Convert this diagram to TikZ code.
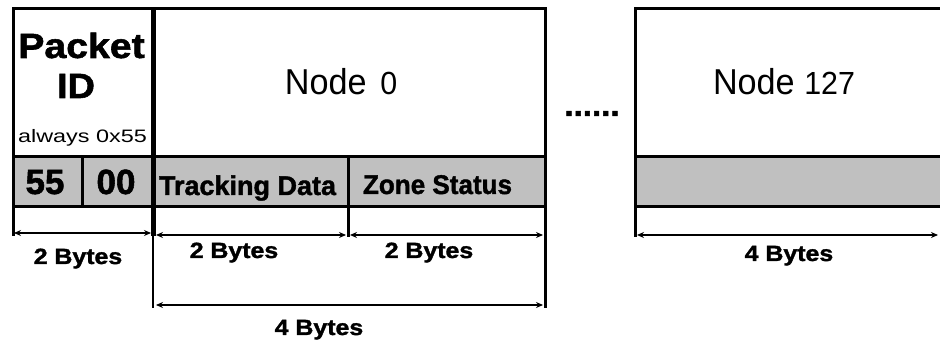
\documentclass[tikz,border=0pt]{standalone}
\usepackage{fontspec}
\setmainfont{Liberation Sans}[BoldFeatures={FakeBold=1.5}]
\usetikzlibrary{arrows.meta}
\definecolor{cellgrey}{HTML}{C0C0C0}
% text at a given size, stretched horizontally by a factor
\newcommand\sizedtext[3]{\scalebox{#2}[1]{\fontsize{#1}{#1}\selectfont #3}}

\begin{document}
\begin{tikzpicture}[x=1pt,y=-1pt,
  cell/.style={draw=black, line width=3pt, anchor=north west, outer sep=0pt, inner sep=0pt},
  greycell/.style={cell, fill=cellgrey},
  lbl/.style={anchor=base, inner sep=0pt, outer sep=0pt},
  extline/.style={line width=3pt},
  divline/.style={line width=5pt},
  dimline/.style={line width=1.5pt, {Stealth[length=7pt,width=6pt]}-{Stealth[length=7pt,width=6pt]}}]
\useasboundingbox (0,0) rectangle (940,344);
\clip (0,0) rectangle (940,344);

% upper row
\node[cell, minimum width=140pt, minimum height=148pt] (pid) at (13,9) {};
\node[cell, minimum width=392pt, minimum height=148pt] (n0) at (153,9) {};
\node[cell, minimum width=330pt, minimum height=148pt] (n127) at (635,9) {};

% grey field row
\node[greycell, minimum width=69pt, minimum height=50pt] (c55) at (13,157) {};
\node[greycell, minimum width=71pt, minimum height=50pt] (c00) at (82,157) {};
\node[greycell, minimum width=195pt, minimum height=50pt] (track) at (153,157) {};
\node[greycell, minimum width=197pt, minimum height=50pt] (zone) at (348,157) {};
\node[greycell, minimum width=330pt, minimum height=50pt] (g127) at (635,157) {};

% extension lines
\coordinate (xL) at (13,236);
\coordinate (xA) at (153,236);
\coordinate (xAlong) at (153,308);
\coordinate (xB) at (348,237);
\coordinate (xC) at (545,308);
\coordinate (xD) at (635,237);
\draw[extline] (c55.south west) -- (xL);
\draw[extline] (track.south east) -- (xB);
\draw[extline] (zone.south east) -- (xC);
\draw[extline] (g127.south west) -- (xD);
\draw[line width=2.5pt] (xA) -- (xAlong);
\draw[divline] (pid.north east) -- (xA);

% dimension arrows
\coordinate (aL1) at (14,233);
\coordinate (aL2) at (151,233);
\coordinate (aM1) at (156,235);
\coordinate (aM2) at (346,235);
\coordinate (aN1) at (350,235);
\coordinate (aN2) at (543,235);
\coordinate (aT1) at (156,305);
\coordinate (aT2) at (543,305);
\coordinate (aR1) at (637,235);
\coordinate (aR2) at (938,235);
\draw[dimline] (aL1) -- (aL2);
\draw[dimline] (aM1) -- (aM2);
\draw[dimline] (aN1) -- (aN2);
\draw[dimline] (aT1) -- (aT2);
\draw[dimline] (aR1) -- (aR2);

% labels
\node[lbl] (tpacket) at (81.5,58) {\sizedtext{35}{1.12}{\bfseries Packet}};
\node[lbl] (tid) at (76,98) {\sizedtext{35}{1.08}{\bfseries ID}};
\node[lbl] (talways) at (82.5,143) {\sizedtext{18}{1.3}{always 0x55}};
\node[lbl] (tnode0) at (341,95) {\sizedtext{36}{0.95}{Node\hspace{0.4em}\fontsize{32}{32}\selectfont 0}};
\node[lbl] (tnode127) at (784,95) {\sizedtext{36}{0.95}{Node \fontsize{32}{32}\selectfont 127}};
\node[lbl] (tdots) at (592,116) {\sizedtext{33}{1}{\bfseries ......}};
\node[lbl] (t55) at (45,194) {\sizedtext{35}{1}{\bfseries 55}};
\node[lbl] (t00) at (116,194) {\sizedtext{35}{1}{\bfseries 00}};
\node[lbl] (ttrack) at (247.5,195) {\sizedtext{27}{1}{\bfseries Tracking Data}};
\node[lbl] (tzone) at (437.5,194) {\sizedtext{27}{0.965}{\bfseries Zone Status}};
\node[lbl] (tb1) at (78,264) {\sizedtext{22}{1.13}{\bfseries 2 Bytes}};
\node[lbl] (tb2) at (234,258) {\sizedtext{22}{1.13}{\bfseries 2 Bytes}};
\node[lbl] (tb3) at (429,258) {\sizedtext{22}{1.13}{\bfseries 2 Bytes}};
\node[lbl] (tb4) at (319,335) {\sizedtext{22}{1.13}{\bfseries 4 Bytes}};
\node[lbl] (tb5) at (789,261) {\sizedtext{22}{1.13}{\bfseries 4 Bytes}};
\end{tikzpicture}
\end{document}
